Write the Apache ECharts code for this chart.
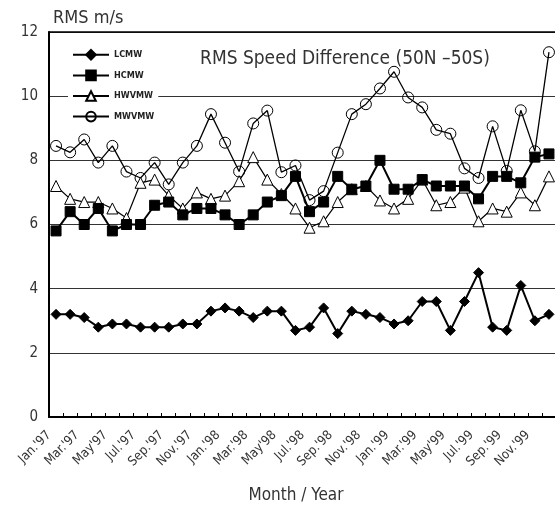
<!DOCTYPE html>
<html>
<head>
<meta charset="utf-8">
<script src="https://cdn.jsdelivr.net/npm/echarts@6/dist/echarts.min.js"></script>
<style>
  html, body { margin: 0; padding: 0; background: #fff; }
  #chart { width: 555px; height: 507px; }
</style>
</head>
<body>
<div id="chart"></div>
<script>
const monthNames = ['Jan', 'Feb', 'Mar', 'Apr', 'May', 'Jun', 'Jul', 'Aug', 'Sep', 'Oct', 'Nov', 'Dec']
const years = ["'97", "'98", "'99"]
const tickLabels = ["Jan.'97", "Mar.'97", "May'97", "Jul.'97", "Sep.'97", "Nov.'97",
  "Jan.'98", "Mar.'98", "May'98", "Jul.'98", "Sep.'98", "Nov.'98",
  "Jan.'99", "Mar.'99", "May'99", "Jul.'99", "Sep.'99", "Nov.'99"]

const lcmw = [3.2, 3.2, 3.1, 2.8, 2.9, 2.9, 2.8, 2.8, 2.8, 2.9, 2.9, 3.3,
  3.4, 3.3, 3.1, 3.3, 3.3, 2.7, 2.8, 3.4, 2.6, 3.3, 3.2, 3.1,
  2.9, 3.0, 3.6, 3.6, 2.7, 3.6, 4.5, 2.8, 2.7, 4.1, 3.0, 3.2]
const hcmw = [5.8, 6.4, 6.0, 6.5, 5.8, 6.0, 6.0, 6.6, 6.7, 6.3, 6.5, 6.5,
  6.3, 6.0, 6.3, 6.7, 6.9, 7.5, 6.4, 6.7, 7.5, 7.1, 7.2, 8.0,
  7.1, 7.1, 7.4, 7.2, 7.2, 7.2, 6.8, 7.5, 7.5, 7.3, 8.1, 8.2]
const hwvmw = [7.2, 6.8, 6.7, 6.7, 6.5, 6.2, 7.3, 7.4, 6.9, 6.5, 7.0, 6.8,
  6.9, 7.35, 8.1, 7.4, 6.95, 6.5, 5.9, 6.1, 6.7, 7.1, 7.2, 6.75,
  6.5, 6.8, 7.4, 6.6, 6.7, 7.15, 6.1, 6.5, 6.4, 7.0, 6.6, 7.5]
const mwvmw = [8.45, 8.25, 8.65, 7.93, 8.45, 7.65, 7.45, 7.93, 7.25, 7.93, 8.45, 9.44,
  8.55, 7.65, 9.15, 9.55, 7.63, 7.84, 6.76, 7.04, 8.24, 9.44, 9.75, 10.24,
  10.76, 9.96, 9.65, 8.95, 8.83, 7.75, 7.45, 9.06, 7.67, 9.56, 8.28, 11.37]

const months = []
years.forEach(y => monthNames.forEach(m => months.push(m + y)))

// one slot per month boundary, a label on every other one
const labelSlots = []
for (let i = 0; i <= months.length; i++) {
  labelSlots.push(i % 2 === 0 ? (tickLabels[i / 2] || '') : '')
}

const font = "'DejaVu Sans Condensed', 'Liberation Sans Narrow', sans-serif"

let chart = echarts.init(document.getElementById('chart'))

function lineSeries(name, data, symbol, size, fill, width, z) {
  return {
    name: name,
    type: 'line',
    xAxisIndex: 0,
    data: data,
    symbol: symbol,
    symbolSize: size,
    showAllSymbol: true,
    z: z,
    lineStyle: { color: '#000', width: width },
    itemStyle: { color: fill, borderColor: '#000', borderWidth: 1 },
    emphasis: { disabled: true }
  }
}

let options = {
  animation: false,
  backgroundColor: '#fff',
  grid: {
    left: 49,
    top: 32,
    width: 507,
    bottom: 90,
    outerBoundsMode: 'none'
  },
  legend: {
    orient: 'vertical',
    left: 68,
    top: 46,
    padding: [3, 4, 3, 4],
    backgroundColor: '#fff',
    itemWidth: 36,
    itemHeight: 12,
    itemGap: 9,
    data: ['LCMW', 'HCMW', 'HWVMW', 'MWVMW'],
    textStyle: { fontFamily: font, fontSize: 9, fontWeight: 'bold', color: '#222' }
  },
  xAxis: [{
    type: 'category',
    data: months,
    boundaryGap: true,
    axisLine: { lineStyle: { color: '#000', width: 2 } },
    axisTick: { show: true, inside: true, length: 4, interval: 0, lineStyle: { color: '#000' } },
    axisLabel: { show: false },
    splitLine: { show: false }
  }, {
    type: 'category',
    data: labelSlots,
    boundaryGap: false,
    position: 'bottom',
    axisLine: { show: false },
    axisTick: { show: false },
    splitLine: { show: false },
    axisLabel: {
      interval: 0,
      rotate: 45,
      margin: 16,
      fontFamily: font,
      fontSize: 13,
      color: '#333'
    }
  }, {
    // top frame line only
    type: 'category',
    data: months,
    position: 'top',
    axisLine: { lineStyle: { color: '#000', width: 1.5 } },
    axisTick: { show: false },
    axisLabel: { show: false },
    splitLine: { show: false }
  }],
  yAxis: {
    type: 'value',
    min: 0,
    max: 12,
    interval: 2,
    axisLine: { show: true, lineStyle: { color: '#000', width: 2 } },
    axisTick: { show: false },
    axisLabel: { margin: 11, fontFamily: font, fontSize: 15, color: '#333' },
    splitLine: { lineStyle: { color: '#333', width: 1 } }
  },
  graphic: [{
    type: 'text',
    left: 53,
    top: 9,
    style: { text: 'RMS m/s', font: '18px ' + font, fill: '#333' }
  }, {
    type: 'text',
    left: 200,
    top: 50,
    style: { text: 'RMS Speed Difference (50N \u201350S)', font: '19px ' + font, fill: '#333' }
  }, {
    type: 'text',
    x: 296,
    y: 487,
    style: { text: 'Month / Year', font: '17px ' + font, fill: '#333', align: 'center' }
  }],
  series: [
    lineSeries('LCMW', lcmw, 'diamond', 10, '#000', 2, 3),
    lineSeries('MWVMW', mwvmw, 'circle', 11, 'transparent', 1.3, 2),
    lineSeries('HWVMW', hwvmw, 'triangle', 11, '#fff', 1.2, 3),
    lineSeries('HCMW', hcmw, 'rect', 10, '#000', 2, 4)
  ]
}
options && chart.setOption(options)
</script>
</body>
</html>
